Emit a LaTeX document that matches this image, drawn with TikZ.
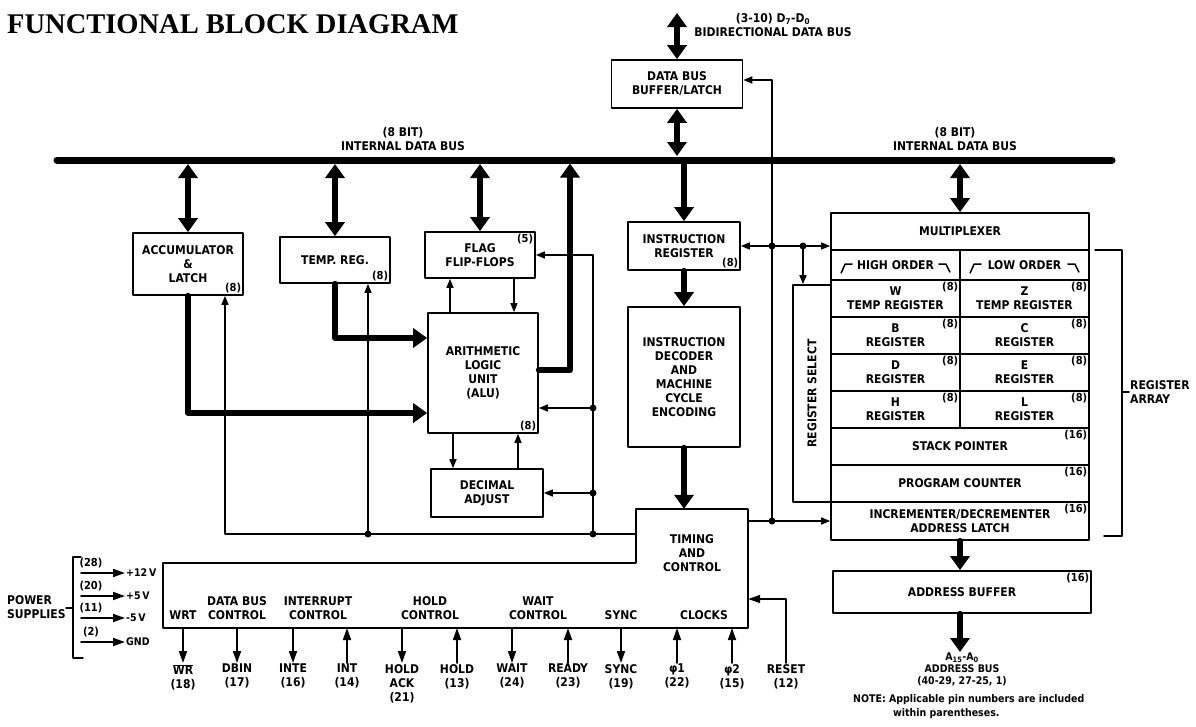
\documentclass[tikz,border=0pt]{standalone}
\usepackage{fontspec}
\usepackage{graphicx}
\usetikzlibrary{arrows.meta}
\newfontfamily\lblfont{DejaVu Sans Condensed Bold}
\newfontfamily\ttlfont{Liberation Serif Bold}
\newcommand\blklbl{\lblfont\fontsize{12}{14}\selectfont}
\newcommand\numlbl{\lblfont\fontsize{11}{12}\selectfont}
\newcommand\smllbl{\lblfont\fontsize{10.5}{12}\selectfont}
\newcommand\notelbl{\lblfont\fontsize{10.5}{14}\selectfont}

\begin{document}
\begin{tikzpicture}[x=1pt,y=-1pt,line cap=round,line join=round,
  blk/.style={draw,line width=1.7pt,inner sep=0pt,align=center,font=\blklbl},
  txt/.style={inner sep=1pt,align=center,font=\blklbl},
  num/.style={inner sep=2.5pt,font=\numlbl},
  ln/.style={line width=1.5pt},
  arr/.style={line width=1.5pt,-{Triangle[length=9pt,width=7pt]}},
  pin/.style={line width=1.7pt,-{Triangle[length=12pt,width=8pt]}},
  thk/.style={line width=6pt,-{Triangle[length=14pt,width=19pt]}},
  dbl/.style={line width=6pt,{Triangle[length=14pt,width=19pt]}-{Triangle[length=14pt,width=19pt]}},
  bus/.style={line width=7pt}]
\useasboundingbox (0,0) rectangle (1196,726);

\node[anchor=west,inner sep=0pt,font=\ttlfont\fontsize{28.5}{32}\selectfont] (title) at (7,24) {FUNCTIONAL BLOCK DIAGRAM};

% internal data bus
\coordinate (busL) at (57,160);
\coordinate (busR) at (1112,160);
\coordinate (busT) at (570,160);
\draw[bus] (busL) -- (busR);
\node[txt] (busLbl) at (403,139) {(8 BIT)\\INTERNAL DATA BUS};
\node[txt] (busLblR) at (955,139) {(8 BIT)\\INTERNAL DATA BUS};

\node[blk,minimum width=131,minimum height=48] (dbb) at (677,84) {DATA BUS\\BUFFER/LATCH};
\coordinate (dtop) at (677,13);
\draw[dbl] (dtop) -- (dbb.north);
\node[txt] (dbLbl) at (773,25) {(3-10) D\textsubscript{7}-D\textsubscript{0}\\BIDIRECTIONAL DATA BUS};
\draw[dbl,shorten <=4pt] (dbb.south |- busL) -- (dbb.south);

% arithmetic side
\node[blk,minimum width=110,minimum height=62] (acc) at (188,264) {ACCUMULATOR\\\&\\LATCH};
\node[num,anchor=south east] (accN) at (acc.south east) {(8)};
\node[blk,minimum width=110,minimum height=46] (tmp) at (335,260) {TEMP. REG.};
\node[num,anchor=south east] (tmpN) at (tmp.south east) {(8)};
\node[blk,minimum width=110,minimum height=46] (flg) at (480,255) {FLAG\\FLIP-FLOPS};
\node[num,anchor=north east] (flgN) at (flg.north east) {(5)};
\node[blk,minimum width=110,minimum height=120] (alu) at (483,373) {ARITHMETIC\\LOGIC\\UNIT\\(ALU)};
\node[num,anchor=south east] (aluN) at (alu.south east) {(8)};
\node[blk,minimum width=112,minimum height=48] (dadj) at (487,493) {DECIMAL\\ADJUST};

\draw[dbl,shorten <=4pt] (acc.north |- busL) -- (acc.north);
\draw[dbl,shorten <=4pt] (tmp.north |- busL) -- (tmp.north);
\draw[dbl,shorten <=4pt] (flg.north |- busL) -- (flg.north);
\draw[thk] (acc.south) |- (alu.west |- 0,413);
\draw[thk] (tmp.south) |- (alu.west |- 0,338);
\draw[thk,shorten >=3.5pt] (alu.east |- 0,370) -| (busT);

\draw[arr] (450,0 |- alu.north) -- (450,0 |- flg.south);
\draw[arr] (514,0 |- flg.south) -- (514,0 |- alu.north);
\draw[arr] (453,0 |- alu.south) -- (453,0 |- dadj.north);
\draw[arr] (518,0 |- dadj.north) -- (518,0 |- alu.south);

% instruction path
\node[blk,minimum width=112,minimum height=48] (ir) at (684,246) {INSTRUCTION\\REGISTER};
\node[num,anchor=south east] (irN) at (ir.south east) {(8)};
\node[blk,minimum width=112,minimum height=140] (dec) at (684,377) {INSTRUCTION\\DECODER\\AND\\MACHINE\\CYCLE\\ENCODING};
\draw[thk] (ir.north |- busL) -- (ir.north);
\draw[thk] (ir.south) -- (dec.north);

% timing and control
\coordinate (t1) at (636,509);
\coordinate (t2) at (748,509);
\coordinate (t3) at (748,628);
\coordinate (t4) at (163,628);
\coordinate (t5) at (163,563);
\coordinate (t6) at (636,563);
\draw[line width=1.7pt] (t1) -- (t2) -- (t3) -- (t4) -- (t5) -- (t6) -- cycle;
\node[txt,minimum width=112,minimum height=88,inner sep=0pt] (tim) at (692,553) {TIMING\\AND\\CONTROL};
\draw[thk] (dec.south) -- (dec.south |- tim.north);

\coordinate (jB) at (593,534);
\coordinate (jC) at (368,534);
\coordinate (jA) at (593,408);
\coordinate (jD) at (593,493);
\draw[arr] (tim.west |- jB) -| (225,0 |- acc.south);
\draw[arr] (jC) -- (jC |- tmp.south);
\draw[arr] (jB) |- (flg.east);
\draw[arr] (jA) -- (alu.east |- jA);
\draw[arr] (jD) -- (dadj.east);
\fill (jB) circle (3.5pt);
\fill (jC) circle (3.5pt);
\fill (jA) circle (3.5pt);
\fill (jD) circle (3.5pt);

% register array
\node[blk,minimum width=258,minimum height=37] (mux) at (960,231.5) {MULTIPLEXER};
\draw[dbl,shorten <=4pt] (mux.north |- busL) -- (mux.north);
\node[blk,minimum width=129,minimum height=30] (hiC) at (895.5,265) {HIGH ORDER};
\node[blk,minimum width=129,minimum height=30] (loC) at (1024.5,265) {LOW ORDER};
\draw[ln] (hiC.west) ++(11,8) -- ++(4,-9) -- ++(7,0);
\draw[ln] (hiC.east) ++(-22,-1) -- ++(7,0) -- ++(4,8);
\draw[ln] (loC.west) ++(11,8) -- ++(4,-9) -- ++(7,0);
\draw[ln] (loC.east) ++(-22,-1) -- ++(7,0) -- ++(4,8);
\node[blk,minimum width=129,minimum height=37] (wR) at (895.5,298.5) {W\\TEMP REGISTER};
\node[blk,minimum width=129,minimum height=37] (zR) at (1024.5,298.5) {Z\\TEMP REGISTER};
\node[blk,minimum width=129,minimum height=37] (bR) at (895.5,335.5) {B\\REGISTER};
\node[blk,minimum width=129,minimum height=37] (cR) at (1024.5,335.5) {C\\REGISTER};
\node[blk,minimum width=129,minimum height=37] (dR) at (895.5,372.5) {D\\REGISTER};
\node[blk,minimum width=129,minimum height=37] (eR) at (1024.5,372.5) {E\\REGISTER};
\node[blk,minimum width=129,minimum height=37] (hR) at (895.5,409.5) {H\\REGISTER};
\node[blk,minimum width=129,minimum height=37] (lR) at (1024.5,409.5) {L\\REGISTER};
\node[num,anchor=north east] (wN) at (wR.north east) {(8)};
\node[num,anchor=north east] (zN) at (zR.north east) {(8)};
\node[num,anchor=north east] (bN) at (bR.north east) {(8)};
\node[num,anchor=north east] (cN) at (cR.north east) {(8)};
\node[num,anchor=north east] (dN) at (dR.north east) {(8)};
\node[num,anchor=north east] (eN) at (eR.north east) {(8)};
\node[num,anchor=north east] (hN) at (hR.north east) {(8)};
\node[num,anchor=north east] (lN) at (lR.north east) {(8)};
\node[blk,minimum width=258,minimum height=37] (sp) at (960,446.5) {STACK POINTER};
\node[blk,minimum width=258,minimum height=37] (pc) at (960,483.5) {PROGRAM COUNTER};
\node[blk,minimum width=258,minimum height=38] (inc) at (960,521) {INCREMENTER/DECREMENTER\\ADDRESS LATCH};
\node[num,anchor=north east] (spN) at (sp.north east) {(16)};
\node[num,anchor=north east] (pcN) at (pc.north east) {(16)};
\node[num,anchor=north east] (incN) at (inc.north east) {(16)};
\node[blk,minimum width=38,minimum height=217] (rsel) at (812,393.5) {\rotatebox{90}{REGISTER SELECT}};

\draw[ln] (1095,250) -- (1122,250) -- (1122,536) -- (1104,536);
\draw[ln] (1122,392) -- (1129,392);
\node[txt,anchor=west,align=left] (rarr) at (1129,392) {REGISTER\\ARRAY};

\coordinate (jT) at (772,521);
\coordinate (jI) at (772,246);
\coordinate (jM) at (803,246);
\draw[arr] (tim.east |- jT) -- (inc.west);
\draw[arr] (jT) -- (jT |- 0,80) -- (dbb.east |- 0,80);
\draw[arr] (jI) -- (ir.east);
\draw[arr] (jI) -- (mux.west |- jI);
\draw[arr] (jM) -- (jM |- rsel.north);
\fill (jT) circle (3.5pt);
\fill (jI) circle (3.5pt);
\fill (jM) circle (3.5pt);

\node[blk,minimum width=258,minimum height=42] (abuf) at (962,592) {ADDRESS BUFFER};
\node[num,anchor=north east] (abN) at (abuf.north east) {(16)};
\draw[thk] (inc.south) -- (inc.south |- abuf.north);
\node[txt,anchor=north,font=\smllbl] (abus) at (962,652) {A\textsubscript{15}-A\textsubscript{0}\\ADDRESS BUS\\(40-29, 27-25, 1)};
\draw[thk] (inc.south |- abuf.south) -- (inc.south |- abus.north);
\node[anchor=north west,align=left,inner sep=0pt,font=\notelbl] (note) at (853,694) {NOTE: Applicable pin numbers are included\\\hspace*{40pt}within parentheses.};

% power supplies
\node[txt,anchor=west,align=left] (pwr) at (6,607) {POWER\\SUPPLIES};
\draw[ln] (81,557) -- (73,557) -- (73,658) -- (83,658);
\draw[ln] (73,608) -- (66,608);
\node[txt,anchor=west,font=\smllbl] (v12) at (125,573) {+12\,V};
\node[txt,anchor=west,font=\smllbl] (v5) at (125,596) {+5\,V};
\node[txt,anchor=west,font=\smllbl] (vm5) at (125,618) {-5\,V};
\node[txt,anchor=west,font=\smllbl] (gnd) at (125,642) {GND};
\node[num] (n28) at (91,563) {(28)};
\node[num] (n20) at (91,586) {(20)};
\node[num] (n11) at (91,608) {(11)};
\node[num] (n2) at (91,632) {(2)};
\draw[pin] (v12.west -| 81,0) -- (v12.west);
\draw[pin] (v5.west -| 81,0) -- (v5.west);
\draw[pin] (vm5.west -| 81,0) -- (vm5.west);
\draw[pin] (gnd.west -| 81,0) -- (gnd.west);

% pin groups inside timing
\node[txt,anchor=south] (gWRT) at (183,621) {WRT};
\node[txt,anchor=south] (gDB) at (237,621) {DATA BUS\\CONTROL};
\node[txt,anchor=south] (gINT) at (318,621) {INTERRUPT\\CONTROL};
\node[txt,anchor=south] (gHLD) at (430,621) {HOLD\\CONTROL};
\node[txt,anchor=south] (gWT) at (538,621) {WAIT\\CONTROL};
\node[txt,anchor=south] (gSYN) at (621,621) {SYNC};
\node[txt,anchor=south] (gCLK) at (704,621) {CLOCKS};

% pins
\node[txt,anchor=north] (pWR) at (183,663) {$\overline{\hbox{WR}}$\\(18)};
\node[txt,anchor=north] (pDBIN) at (237,663) {DBIN\\(17)};
\node[txt,anchor=north] (pINTE) at (293,663) {INTE\\(16)};
\node[txt,anchor=north] (pINT) at (347,663) {INT\\(14)};
\node[txt,anchor=north] (pHLDA) at (402,663) {HOLD\\ACK\\(21)};
\node[txt,anchor=north] (pHLD) at (457,663) {HOLD\\(13)};
\node[txt,anchor=north] (pWAIT) at (512,663) {WAIT\\(24)};
\node[txt,anchor=north] (pRDY) at (568,663) {READY\\(23)};
\node[txt,anchor=north] (pSYNC) at (621,663) {SYNC\\(19)};
\node[txt,anchor=north] (pP1) at (677,663) {φ1\\(22)};
\node[txt,anchor=north] (pP2) at (732,663) {φ2\\(15)};
\node[txt,anchor=north] (pRST) at (786,663) {RESET\\(12)};
\draw[pin] (pWR.north |- t4) -- (pWR.north);
\draw[pin] (pDBIN.north |- t4) -- (pDBIN.north);
\draw[pin] (pINTE.north |- t4) -- (pINTE.north);
\draw[pin] (pINT.north) -- (pINT.north |- t4);
\draw[pin] (pHLDA.north |- t4) -- (pHLDA.north);
\draw[pin] (pHLD.north) -- (pHLD.north |- t4);
\draw[pin] (pWAIT.north |- t4) -- (pWAIT.north);
\draw[pin] (pRDY.north) -- (pRDY.north |- t4);
\draw[pin] (pSYNC.north |- t4) -- (pSYNC.north);
\draw[pin] (pP1.north) -- (pP1.north |- t4);
\draw[pin] (pP2.north) -- (pP2.north |- t4);
\draw[pin] (pRST.north) |- (tim.east |- 0,599);
\end{tikzpicture}
\end{document}
